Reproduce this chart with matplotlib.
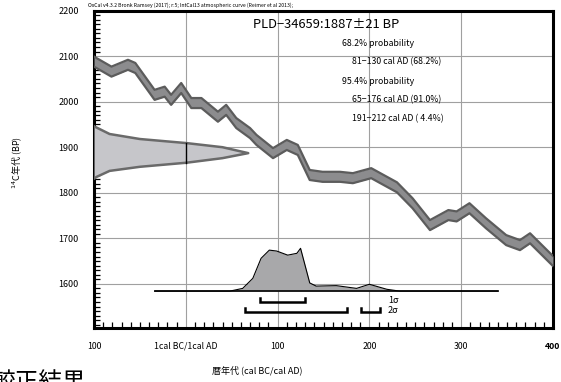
import matplotlib
matplotlib.use("Agg")
import matplotlib.pyplot as plt

plt.rcParams['font.family'] = ['Noto Sans CJK JP', 'DejaVu Sans']

W, H = 561, 382

# calibration curve (IntCal13), centre of band in BP
curve_year = [-100, -81, -63, -55, -34, -23, -16, -5, 6, 17, 35, 44, 55, 70, 77, 95,
              110, 122, 135, 149, 168, 182, 202, 211, 230, 247, 266, 286, 295, 309,
              327, 349, 364, 375, 400]
curve_bp = [2088, 2066, 2081, 2074, 2015, 2022, 2004, 2030, 1997, 1997, 1967, 1982,
            1953, 1931, 1916, 1887, 1905, 1894, 1839, 1835, 1835, 1832, 1843, 1833,
            1812, 1777, 1729, 1751, 1748, 1766, 1733, 1696, 1685, 1700, 1650]
curve_sigma = 11

# radiocarbon date distribution on the y axis (width in years from left edge)
date_bp = [1831, 1835, 1848, 1857, 1866, 1876, 1887, 1900, 1909, 1918, 1929, 1943, 1946]
date_w = [0, 3, 17, 50, 101, 140, 168, 140, 101, 50, 17, 3, 0]

# calibrated distribution (height above baseline in BP units)
cal_year = [-34, 30, 48, 62, 73, 82, 91, 99, 111, 121, 125, 135, 142, 164, 186, 200,
            219, 233, 340]
cal_h = [0, 0, 0, 6, 28, 72, 90, 88, 79, 83, 94, 18, 11, 12, 6, 15, 4, 0, 0]
cal_base = 1584

# ranges
sig1 = [(81, 130)]
sig2 = [(65, 176), (191, 212)]

xticks = [-100, 0, 100, 200, 300, 400]
xticklabels = ['100', '1cal BC/1cal AD', '100', '200', '300', '400']
yticks = [1600, 1700, 1800, 1900, 2000, 2100, 2200]

info = ['68.2% probability', '81\u2212130 cal AD (68.2%)', '95.4% probability',
        '65\u2212176 cal AD (91.0%)', '191\u2212212 cal AD ( 4.4%)']


def fx(px):
    return px / W


def fy(py):
    return 1 - py / H


fig = plt.figure(figsize=(W / 100, H / 100), dpi=100)
ax = fig.add_axes([fx(94), fy(328), fx(553) - fx(94), fy(10.6) - fy(328)])
ax.set_xlim(-100, 400)
ax.set_ylim(1503, 2200)

for v in [0, 100, 200, 300]:
    ax.axvline(v, color='#a0a0a0', lw=0.8, zorder=0)
for v in [1600, 1700, 1800, 1900, 2000, 2100]:
    ax.axhline(v, color='#a0a0a0', lw=0.8, zorder=0)

# curve band
lo = [c - curve_sigma for c in curve_bp]
hi = [c + curve_sigma for c in curve_bp]
ax.fill_between(curve_year, lo, hi, color='#8c8c8e', lw=0, zorder=2)
ax.plot(curve_year, lo, color='#5c5c5c', lw=1.6, zorder=3)
ax.plot(curve_year, hi, color='#5c5c5c', lw=1.6, zorder=3)

# date distribution
xs = [-100 + w for w in date_w]
ax.fill_betweenx(date_bp, -100, xs, color='#c6c6ca', lw=0, zorder=4)
ax.plot(xs, date_bp, color='#6a6a6a', lw=1.8, zorder=5)
ax.plot([0, 0], [1866, 1909], color='black', lw=1.0, zorder=6)

# calibrated distribution
ytop = [cal_base + h for h in cal_h]
ax.fill_between(cal_year, cal_base, ytop, color='#a8a8aa', lw=0, zorder=4)
ax.plot(cal_year, ytop, color='black', lw=0.8, zorder=5)
ax.plot([cal_year[0], cal_year[-1]], [cal_base, cal_base], color='black', lw=1.2, zorder=5)

# range brackets
for ranges, yb in [(sig1, 1561), (sig2, 1539)]:
    for a, b in ranges:
        ax.plot([a, a, b, b], [yb + 8, yb, yb, yb + 8], color='black', lw=1.8,
                solid_joinstyle='miter', zorder=6)
ax.text(220, 1563, '1\u03c3', fontsize=6.5, va='center', ha='left')
ax.text(220, 1541, '2\u03c3', fontsize=6.5, va='center', ha='left')

# axes styling
for s in ax.spines.values():
    s.set_linewidth(2.2)
    s.set_zorder(1)
ax.set_xticks(xticks)
ax.set_xticklabels(xticklabels, fontsize=6.3)
ax.get_xticklabels()[-1].set_fontweight('bold')
ax.set_yticks(yticks)
ax.set_yticklabels([str(v) for v in yticks], fontsize=6.5)
ax.set_xticks(range(-100, 401, 10), minor=True)
ax.set_yticks(range(1510, 2200, 10), minor=True)
ax.tick_params(axis='both', which='major', direction='in', length=0, pad=10)
ax.tick_params(axis='y', which='major', pad=11)
ax.tick_params(axis='both', which='minor', direction='in', length=4.5, width=0.9,
               color='black')

fig.text(fx(17), fy(162), '$^{14}$C年代 (BP)', rotation=90, fontsize=6.5,
         ha='center', va='center')
fig.text(fx(257), fy(370), '暦年代 (cal BC/cal AD)', fontsize=6.5, ha='center', va='center')

fig.text(fx(88), fy(5), 'OxCal v4.3.2 Bronk Ramsey (2017); r:5; IntCal13 atmospheric curve '
         '(Reimer et al 2013);', fontsize=3.7, ha='left', va='center')
fig.text(fx(253), fy(25), 'PLD\u221234659:1887\u00b121 BP', fontsize=9.3, ha='left', va='center')

info_x = [342, 352, 342, 352, 352]
info_y = [44, 62, 81, 100, 119]
for t, x, y in zip(info, info_x, info_y):
    fig.text(fx(x), fy(y), t, fontsize=6.3, ha='left', va='center')

fig.text(fx(-9), fy(371), '較正結果', fontsize=17, ha='left', va='top')

fig.savefig('out.png', dpi=100)
